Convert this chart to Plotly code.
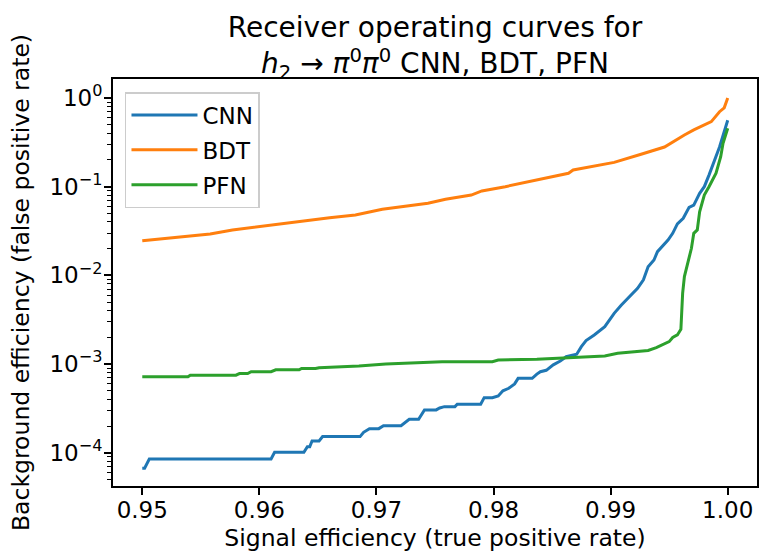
import plotly.graph_objects as go

# ROC curves: signal efficiency (TPR) vs background efficiency (FPR)
cnn_tpr = [0.9500, 0.9502, 0.9506, 0.9610, 0.9613, 0.9638, 0.9641, 0.9643, 0.9645,
           0.9651, 0.9654, 0.9686, 0.9689, 0.9694, 0.9702, 0.9706, 0.9721, 0.9725,
           0.9728, 0.9736, 0.9741, 0.9751, 0.9754, 0.9758, 0.9767, 0.9769, 0.9789,
           0.9792, 0.9799, 0.9804, 0.9808, 0.9813, 0.9818, 0.9821, 0.9833, 0.9837,
           0.9840, 0.9845, 0.9851, 0.9857, 0.9862, 0.9871, 0.9875, 0.9879, 0.9886,
           0.9895, 0.9898, 0.9903, 0.9909, 0.9916, 0.9923, 0.9928, 0.9932, 0.9937,
           0.9940, 0.9949, 0.9953, 0.9957, 0.9962, 0.9967, 0.9971, 0.9976, 0.9980,
           0.9984, 0.9988, 0.9993, 1.0000]
cnn_fpr = [6.7e-5, 6.7e-5, 8.5e-5, 8.5e-5, 1.01e-4, 1.01e-4, 1.17e-4, 1.17e-4, 1.36e-4,
           1.36e-4, 1.52e-4, 1.52e-4, 1.70e-4, 1.87e-4, 1.87e-4, 2.02e-4, 2.02e-4, 2.20e-4,
           2.38e-4, 2.38e-4, 3.04e-4, 3.04e-4, 3.20e-4, 3.31e-4, 3.31e-4, 3.52e-4, 3.52e-4,
           4.18e-4, 4.18e-4, 4.37e-4, 5.00e-4, 5.33e-4, 5.97e-4, 6.90e-4, 6.90e-4, 7.70e-4,
           8.2e-4, 8.5e-4, 9.8e-4, 1.08e-3, 1.21e-3, 1.29e-3, 1.57e-3, 1.84e-3, 2.13e-3,
           2.64e-3, 3.0e-3, 3.73e-3, 4.6e-3, 5.75e-3, 7.15e-3, 8.9e-3, 1.25e-2, 1.49e-2,
           1.85e-2, 2.5e-2, 2.98e-2, 3.8e-2, 4.4e-2, 5.85e-2, 6.2e-2, 8.4e-2, 0.10,
           0.135, 0.19, 0.28, 0.56]

bdt_tpr = [0.9500, 0.9558, 0.9577, 0.9605, 0.9631, 0.9660, 0.9682, 0.9705, 0.9744,
           0.9759, 0.9781, 0.9790, 0.9810, 0.9830, 0.9864, 0.9868, 0.9903, 0.9926,
           0.9946, 0.9963, 0.9971, 0.9986, 0.9993, 0.9997, 1.0000]
bdt_fpr = [0.0246, 0.0293, 0.0325, 0.0363, 0.0403, 0.0445, 0.048, 0.0556, 0.0649,
           0.072, 0.0805, 0.0895, 0.100, 0.114, 0.1416, 0.154, 0.188, 0.232,
           0.280, 0.383, 0.436, 0.541, 0.70, 0.775, 1.0]

pfn_tpr = [0.9500, 0.9539, 0.9541, 0.9580, 0.9583, 0.9590, 0.9593, 0.9610, 0.9614,
           0.9634, 0.9636, 0.9648, 0.9651, 0.9685, 0.9708, 0.9736, 0.9756, 0.9799,
           0.9804, 0.9837, 0.9872, 0.9881, 0.9895, 0.9906, 0.9915, 0.9932, 0.9939,
           0.9945, 0.9950, 0.9953, 0.9957, 0.9960, 0.99615, 0.9963, 0.9966, 0.9969,
           0.9971, 0.9974, 0.9976, 0.9980, 0.9984, 0.9990, 0.9994, 0.9996, 1.0000]
pfn_fpr = [7.2e-4, 7.2e-4, 7.5e-4, 7.5e-4, 7.8e-4, 7.8e-4, 8.2e-4, 8.2e-4, 8.6e-4,
           8.6e-4, 8.9e-4, 8.9e-4, 9.1e-4, 9.5e-4, 1.0e-3, 1.04e-3, 1.06e-3, 1.065e-3,
           1.11e-3, 1.13e-3, 1.18e-3, 1.20e-3, 1.23e-3, 1.32e-3, 1.35e-3, 1.42e-3, 1.53e-3,
           1.67e-3, 1.79e-3, 1.99e-3, 2.13e-3, 2.47e-3, 6.3e-3, 9.7e-3, 1.37e-2, 2.02e-2,
           2.98e-2, 3.25e-2, 5.2e-2, 8.05e-2, 0.10, 0.142, 0.218, 0.308, 0.455]

x_tick_vals = [0.95, 0.96, 0.97, 0.98, 0.99, 1.00]
x_tick_text = ["0.95", "0.96", "0.97", "0.98", "0.99", "1.00"]
y_tick_vals = [1e-4, 1e-3, 1e-2, 1e-1, 1e0]
y_tick_text = ["10<sup>−4</sup>", "10<sup>−3</sup>", "10<sup>−2</sup>",
               "10<sup>−1</sup>", "10<sup>0</sup>"]

series = [
    ("CNN", cnn_tpr, cnn_fpr, "#1f77b4"),
    ("BDT", bdt_tpr, bdt_fpr, "#ff7f0e"),
    ("PFN", pfn_tpr, pfn_fpr, "#2ca02c"),
]

FONT = "DejaVu Sans"

fig = go.Figure()
for name, tpr, fpr, color in series:
    fig.add_trace(go.Scatter(
        x=tpr, y=fpr, mode="lines", name=name, legendgroup=name,
        line=dict(color=color, width=3),
    ))

# minor ticks at 2..9 x 10^k on the log axis
y_minor = [m * 10.0 ** k for k in range(-5, 1) for m in range(2, 10)]

axis_common = dict(
    showline=True, linecolor="black", linewidth=1.8, mirror=True,
    ticks="outside", ticklen=7, tickwidth=1.8, tickcolor="black",
    showgrid=False, zeroline=False,
    tickfont=dict(family=FONT, size=23, color="black"),
)

fig.update_layout(
    width=761, height=553,
    margin=dict(l=113, r=2, t=79, b=67),
    paper_bgcolor="white", plot_bgcolor="white",
    font=dict(family=FONT, color="black"),
    title=dict(
        text="Receiver operating curves for<br>"
             "<i>h</i><sub>2</sub> → <i>π</i><sup>0</sup><i>π</i><sup>0</sup> CNN, BDT, PFN",
        x=0.5, xref="paper", xanchor="center",
        y=0.933, yref="container", yanchor="top",
        font=dict(family=FONT, size=28, color="black"),
    ),
    xaxis=dict(
        range=[0.9475, 1.0025],
        tickvals=x_tick_vals, ticktext=x_tick_text, ticklabelstandoff=-5,
        title=dict(text="Signal efficiency (true positive rate)",
                   font=dict(family=FONT, size=23.5, color="black"), standoff=8),
        **axis_common,
    ),
    yaxis=dict(
        type="log", range=[-4.375, 0.214],
        tickvals=y_tick_vals, ticktext=y_tick_text, ticklabelstandoff=-3,
        minor=dict(tickmode="array", tickvals=y_minor, ticks="outside",
                   ticklen=4, tickwidth=1.3, tickcolor="black", showgrid=False),
        title=dict(text="Background efficiency (false positive rate)",
                   font=dict(family=FONT, size=23.5, color="black"), standoff=13),
        **axis_common,
    ),
    legend=dict(
        x=0.0186, y=0.968, xanchor="left", yanchor="top",
        bgcolor="rgba(255,255,255,0.8)", bordercolor="#cccccc", borderwidth=1.5,
        font=dict(family=FONT, size=23, color="black"),
        tracegroupgap=2, itemwidth=66,
    ),
    showlegend=True,
)

fig.write_html("out.html")
